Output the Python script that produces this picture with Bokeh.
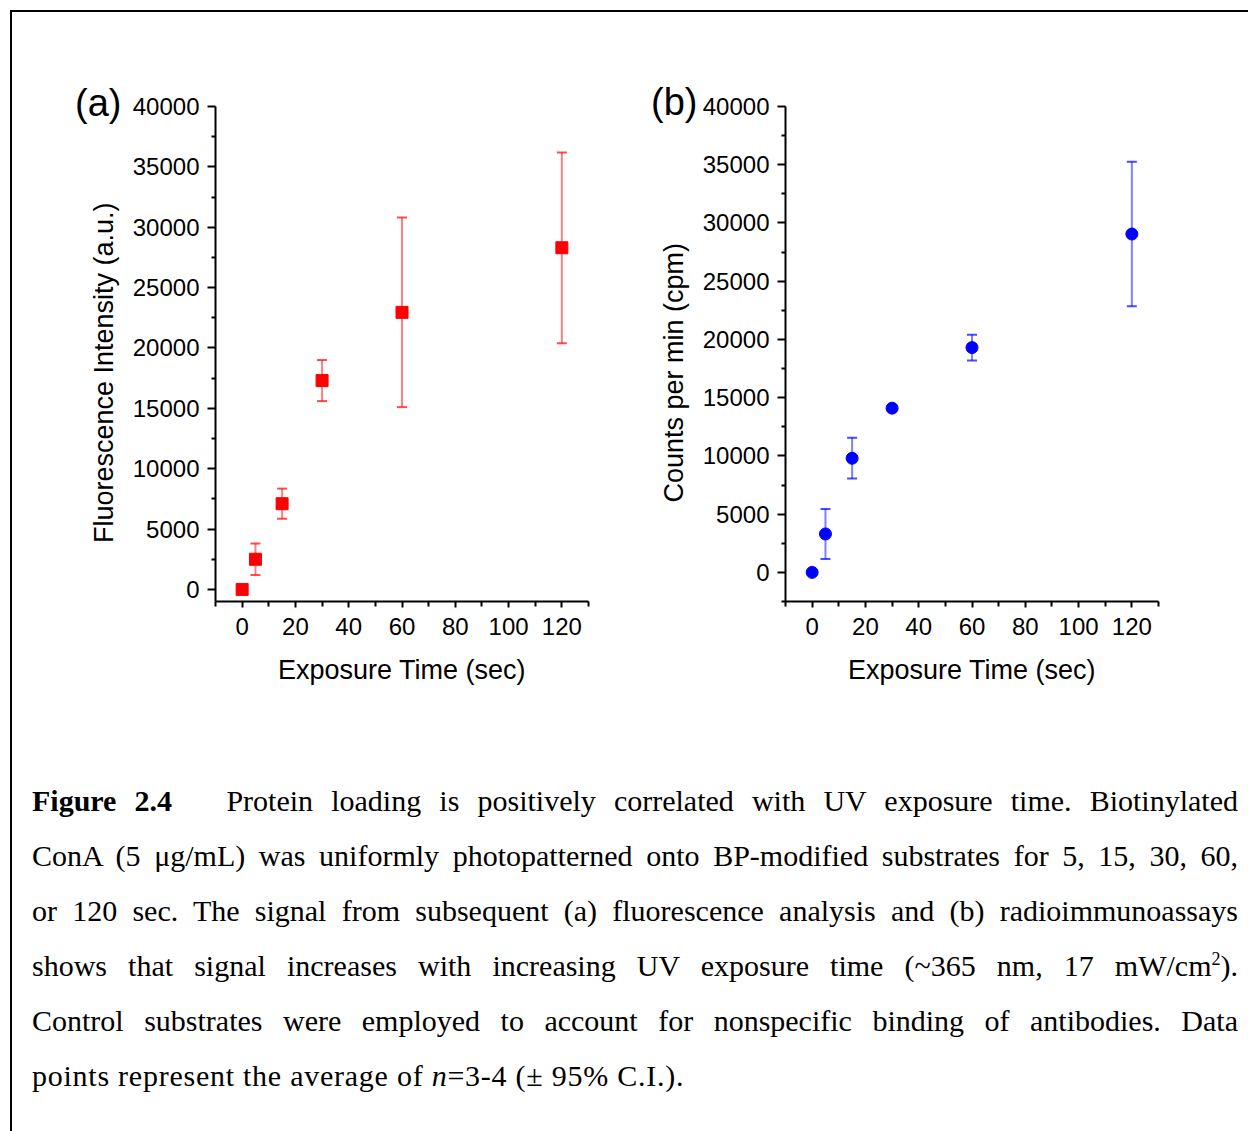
from bokeh.plotting import figure
from bokeh.models import (Range1d, FixedTicker, Whisker, ColumnDataSource,
                          TeeHead, Div)
from bokeh.layouts import column, row
from bokeh.embed import file_html
from bokeh.resources import INLINE

# ---------------- data ----------------
times = [0, 5, 15, 30, 60, 120]
fluor_mean = [0, 2500, 7100, 17300, 22950, 28300]
fluor_err = [0, 1300, 1250, 1700, 7850, 7900]
cpm_mean = [0, 3300, 9800, 14100, 19300, 29050]
cpm_err = [0, 2150, 1750, 250, 1100, 6200]

x_major = [0, 20, 40, 60, 80, 100, 120]
x_minor = [-10, 10, 30, 50, 70, 90, 110, 130]
y_major = [0, 5000, 10000, 15000, 20000, 25000, 30000, 35000, 40000]
y_minor = [-2500, 2500, 7500, 12500, 17500, 22500, 27500, 32500, 37500]

x_label = "Exposure Time (sec)"
y_label_a = "Fluorescence Intensity (a.u.)"
y_label_b = "Counts per min (cpm)"
panel_tags = ["(a)", "(b)"]

caption_lines = [
    "<b>Figure 2.4</b>&nbsp;&nbsp; Protein loading is positively correlated with UV exposure time. Biotinylated",
    "ConA (5 &mu;g/mL) was uniformly photopatterned onto BP-modified substrates for 5, 15, 30, 60,",
    "or 120 sec. The signal from subsequent (a) fluorescence analysis and (b) radioimmunoassays",
    "shows that signal increases with increasing UV exposure time (~365 nm, 17 mW/cm<sup style=\"font-size:0.6em;vertical-align:super;line-height:0\">2</sup>).",
    "Control substrates were employed to account for nonspecific binding of antibodies. Data",
    "points represent the average of <i>n</i>=3-4 (&plusmn; 95% C.I.).",
]

SANS = "Liberation Sans"
PAD = "\u00a0" * 5  # shifts the rotated axis title slightly down, as in the original


def make_panel(means, errs, ymin, width, left, right, color, marker, ylab):
    p = figure(width=width, height=709, output_backend="svg", toolbar_location=None,
               x_range=Range1d(-10, 130), y_range=Range1d(ymin, 40000),
               min_border_left=left, min_border_right=right,
               min_border_top=94, min_border_bottom=120)
    p.outline_line_color = None
    p.grid.visible = False
    p.background_fill_color = "white"
    p.border_fill_color = "white"

    src = ColumnDataSource(dict(x=times, y=means,
                                upper=[m + e for m, e in zip(means, errs)],
                                lower=[m - e for m, e in zip(means, errs)]))
    w = Whisker(source=src, base="x", upper="upper", lower="lower",
                line_color=color, line_alpha=0.5, line_width=2,
                upper_head=TeeHead(size=10, line_color=color, line_alpha=0.7, line_width=2),
                lower_head=TeeHead(size=10, line_color=color, line_alpha=0.7, line_width=2))
    p.add_layout(w)
    p.scatter("x", "y", source=src, marker=marker, size=12,
              fill_color=color, line_color=color)

    xa = p.xaxis[0]
    ya = p.yaxis[0]
    xa.ticker = FixedTicker(ticks=x_major, minor_ticks=x_minor)
    ya.ticker = FixedTicker(ticks=y_major, minor_ticks=y_minor)
    for ax in (xa, ya):
        ax.axis_line_width = 2
        ax.axis_line_color = "black"
        ax.major_tick_line_width = 2
        ax.minor_tick_line_width = 2
        ax.major_tick_line_color = "black"
        ax.minor_tick_line_color = "black"
        ax.major_tick_in = 0
        ax.minor_tick_in = 0
        ax.major_label_text_font = SANS
        ax.major_label_text_font_size = "24px"
        ax.major_label_text_color = "black"
        ax.axis_label_text_font = SANS
        ax.axis_label_text_font_size = "27px"
        ax.axis_label_text_font_style = "normal"
        ax.axis_label_text_color = "black"
    ya.major_tick_out = 8
    ya.minor_tick_out = 4
    ya.major_label_standoff = 8
    ya.axis_label_standoff = 11
    xa.major_tick_out = 6
    xa.minor_tick_out = 5
    xa.major_label_standoff = 10
    xa.axis_label_standoff = 17
    xa.axis_label = x_label
    ya.axis_label = ylab + PAD
    return p


pa = make_panel(fluor_mean, fluor_err, -1000, 608, 203, 32, "#ff0000", "square", y_label_a)
pb = make_panel(cpm_mean, cpm_err, -2500, 628, 165, 90, "#0000ff", "circle", y_label_b)


def tag_div(txt, left, top):
    return Div(text=f'<span style="font-family:\'Liberation Sans\',Arial,sans-serif;'
                    f'font-size:38px;line-height:normal;color:black;">{txt}</span>',
               margin=0,
               styles={"position": "absolute", "left": f"{left}px", "top": f"{top}px",
                       "font-family": "'Liberation Sans'", "font-size": "38px",
                       "line-height": "normal", "color": "black"})


tag_a = tag_div(panel_tags[0], 63, 70)
tag_b = tag_div(panel_tags[1], 639, 69)

line_divs = "".join(
    f'<div style="text-align:justify;text-align-last:justify;">{l}</div>'
    for l in caption_lines[:-1]
) + f'<div style="letter-spacing:0.75px;">{caption_lines[-1]}</div>'
html = ('<div style="font-family:\'Liberation Serif\',\'Times New Roman\',serif;'
        'font-size:30px;line-height:55px;color:black;width:1206px;">' + line_divs + '</div>')
cap = Div(text=html, width=1206, margin=(52, 0, 28, 20),
          styles={"font-family": "'Liberation Serif'", "font-size": "30px",
                  "line-height": "55px", "color": "black"})

layout = column(row(pa, pb), cap, tag_a, tag_b, margin=(10, 0, 0, 10),
                styles={"border-left": "2px solid black", "border-top": "2px solid black",
                        "position": "relative"})

open("out.html", "w").write(file_html(layout, INLINE))
